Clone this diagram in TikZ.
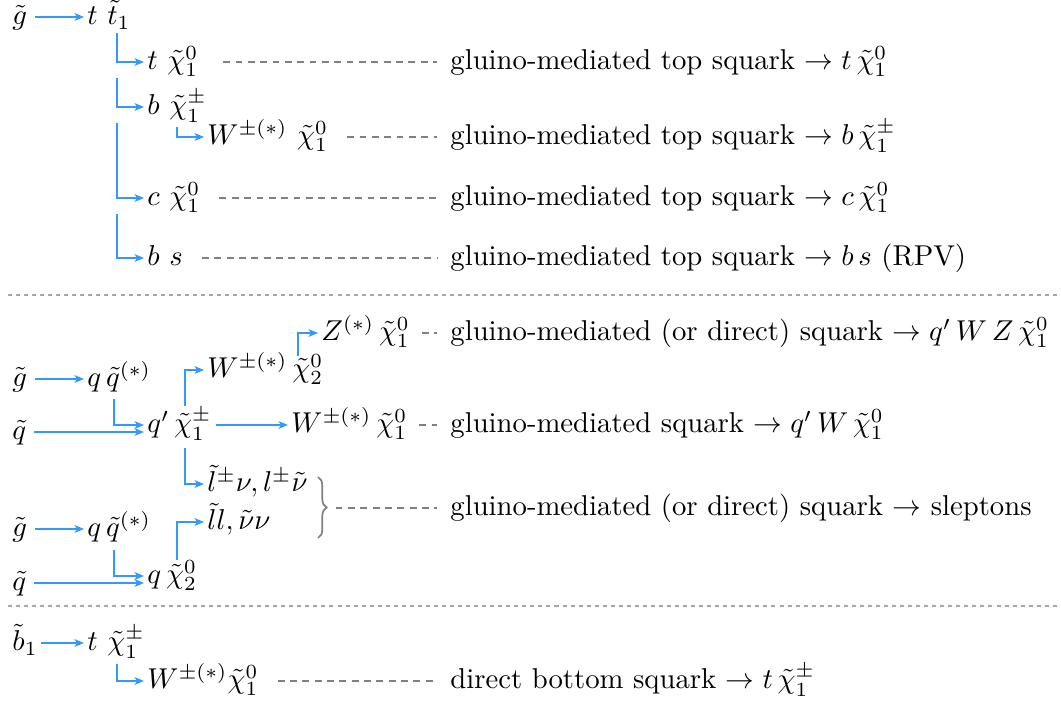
\documentclass[tikz,border=0pt]{standalone}
\usetikzlibrary{arrows.meta,decorations.pathreplacing,calc}
\definecolor{arrowblue}{RGB}{51,153,255}
\definecolor{dashgray}{RGB}{128,128,128}
\begin{document}
\begin{tikzpicture}[x=0.3484pt, y=-0.3484pt,
  lbl/.style={inner xsep=1pt, inner ysep=0pt, text height=8pt, text depth=2.6pt, anchor=west},
  arr/.style={draw=arrowblue, line width=0.72pt, -{Stealth[length=3.3pt,width=2.7pt,inset=0.9pt]}},
  dashln/.style={draw=dashgray, line width=0.45pt, dash pattern=on 2.4pt off 1.9pt, shorten <=5.5pt, shorten >=3.5pt},
  sepln/.style={draw=gray!70, line width=0.6pt, dash pattern=on 1.4pt off 1.4pt}]
\useasboundingbox (0,0) rectangle (1061,704);

% column coordinates
\coordinate (colA) at (117,0);
\coordinate (colB) at (177,0);
\coordinate (colC) at (114,0);
\coordinate (colD) at (185,0);
\coordinate (colE) at (298,0);

% ---------------- section 1
\node[lbl] (g1) at (9,17) {$\tilde g$};
\node[lbl] (tt) at (84,17) {$t\ \tilde t_1$};
\draw[arr, shorten <=1.5pt] (g1.east) -- (tt.west);

\node[lbl] (r1) at (144,62) {$t\ \tilde\chi^0_1$};
\node[lbl] (r2) at (144,107) {$b\ \tilde\chi^\pm_1$};
\node[lbl] (r2a) at (204,137) {$W^{\pm(*)}\ \tilde\chi^0_1$};
\node[lbl] (r3) at (144,198) {$c\ \tilde\chi^0_1$};
\node[lbl] (r4) at (144,258) {$b\ s$};

\draw[arr] (tt.south -| colA) |- (r1.west);
\draw[arr] (r1.south -| colA) |- (r2.west);
\draw[arr] ($(r2.south -| colB)+(0,4)$) |- (r2a.west);
\draw[arr] (r2.south -| colA) |- (r3.west);
\draw[arr] (r3.south -| colA) |- (r4.west);

\node[lbl] (d1) at (447,62) {gluino-mediated top squark $\to t\,\tilde\chi^0_1$};
\node[lbl] (d2) at (447,137) {gluino-mediated top squark $\to b\,\tilde\chi^\pm_1$};
\node[lbl] (d3) at (447,198) {gluino-mediated top squark $\to c\,\tilde\chi^0_1$};
\node[lbl] (d4) at (447,258) {gluino-mediated top squark $\to b\,s$ (RPV)};

\draw[dashln, shorten <=7.5pt] (r1.east) -- (d1.west);
\draw[dashln] (r2a.east) -- (d2.west);
\draw[dashln] (r3.east) -- (d3.west);
\draw[dashln] (r4.east) -- (d4.west);

\draw[sepln] (8,295) -- (1058,295);

% ---------------- section 2
\node[lbl] (g2) at (9,379) {$\tilde g$};
\node[lbl] (qq1) at (84,379) {$q\,\tilde q^{(*)}$};
\node[lbl] (sq1) at (9,432) {$\tilde q$};
\node[lbl] (qp) at (144,425) {$q'\,\tilde\chi^\pm_1$};
\node[lbl] (wc2) at (204,370) {$W^{\pm(*)}\,\tilde\chi^0_2$};
\node[lbl] (w1) at (288,425) {$W^{\pm(*)}\,\tilde\chi^0_1$};
\node[lbl] (zc) at (318,333) {$Z^{(*)}\,\tilde\chi^0_1$};
\node[lbl] (sl1) at (204,484) {$\tilde l^\pm\nu, l^\pm\tilde\nu$};
\node[lbl] (sl2) at (204,522) {$\tilde l l, \tilde\nu\nu$};
\node[lbl] (g3) at (9,529) {$\tilde g$};
\node[lbl] (qq2) at (84,529) {$q\,\tilde q^{(*)}$};
\node[lbl] (sq2) at (9,583) {$\tilde q$};
\node[lbl] (qc2) at (144,576) {$q\,\tilde\chi^0_2$};

\draw[arr, shorten <=1.5pt] (g2.east) -- (qq1.west);
\draw[arr, shorten <=1.5pt] (sq1.east) -- (sq1.east -| qp.west);
\draw[arr] ($(qq1.south -| colC)+(0,4)$) |- (qp.west);
\draw[arr] ($(qp.north -| colD)+(0,-3)$) |- (wc2.west);
\draw[arr, shorten <=0.5pt] (qp.east) -- (w1.west);
\draw[arr] ($(wc2.north -| colE)+(0,2)$) |- (zc.west);
\draw[arr] ($(qp.south -| colD)+(0,7)$) |- (sl1.west);
\draw[arr] (qc2.north -| colB) |- (sl2.west);
\draw[arr, shorten <=1.5pt] (g3.east) -- (qq2.west);
\draw[arr, shorten <=1.5pt] (sq2.east) -- (sq2.east -| qc2.west);
\draw[arr] ($(qq2.south -| colC)+(0,5)$) |- (qc2.west);

\draw[decorate, decoration={brace, amplitude=3pt}, draw=gray, line width=0.6pt] (318,477) -- (318,538);
\coordinate (bt) at (327,508);

\node[lbl] (dz) at (447,333) {gluino-mediated (or direct) squark $\to q'\,W\,Z\,\tilde\chi^0_1$};
\node[lbl] (dw) at (447,425) {gluino-mediated squark $\to q'\,W\,\tilde\chi^0_1$};
\node[lbl] (ds) at (447,508) {gluino-mediated (or direct) squark $\to$ sleptons};

\draw[dashln, shorten <=3pt] (zc.east) -- (dz.west);
\draw[dashln, shorten <=3pt] (w1.east) -- (dw.west);
\draw[dashln, shorten <=3pt] (bt) -- (ds.west);

\draw[sepln] (8,606) -- (1058,606);

% ---------------- section 3
\node[lbl] (b1) at (9,643) {$\tilde b_1$};
\node[lbl] (tc) at (84,643) {$t\ \tilde\chi^\pm_1$};
\node[lbl] (w3) at (144,681) {$W^{\pm(*)}\tilde\chi^0_1$};
\node[lbl] (d5) at (447,681) {direct bottom squark $\to t\,\tilde\chi^\pm_1$};

\draw[arr] (b1.east) -- (tc.west);
\draw[arr] ($(tc.south -| colA)+(0,5)$) |- (w3.west);
\draw[dashln] (w3.east) -- (d5.west);
\end{tikzpicture}
\end{document}
